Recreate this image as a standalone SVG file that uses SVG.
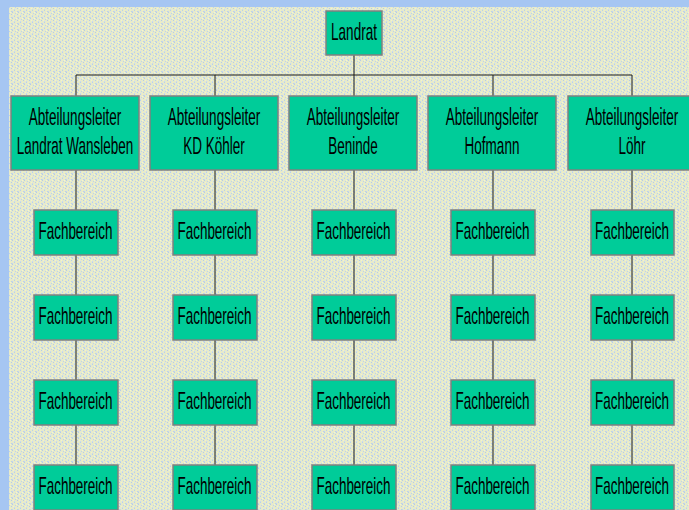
<svg xmlns="http://www.w3.org/2000/svg" width="689" height="510" viewBox="0 0 689 510">
<defs>
<pattern id="tex" x="0" y="0" width="6" height="6" patternUnits="userSpaceOnUse">
<rect width="6" height="6" fill="#e6eacc"/>
<rect x="0" y="0" width="1" height="1" fill="#b4cce8"/>
<rect x="3" y="1" width="1" height="1" fill="#bcd2ee"/>
<rect x="1" y="2" width="1" height="1" fill="#f4f4c8"/>
<rect x="5" y="2" width="1" height="1" fill="#b4cce8"/>
<rect x="2" y="3" width="1" height="1" fill="#c8daf0"/>
<rect x="2" y="4" width="1" height="1" fill="#b8d0ec"/>
<rect x="4" y="4" width="1" height="1" fill="#f0f0c0"/>
<rect x="0" y="5" width="1" height="1" fill="#c4d6ea"/>
<rect x="4" y="0" width="1" height="1" fill="#f6f6cc"/>
<rect x="5" y="5" width="1" height="1" fill="#bcd0ea"/>
</pattern>
<style>
.box{fill:#00cc99;stroke:#808080;stroke-width:1.5}
.t{font-family:"Liberation Sans",Arial,sans-serif;font-size:24px;fill:#000;text-anchor:middle}
.ln{stroke:#1a1a1a;stroke-width:1;fill:none}
</style>
</defs>
<rect width="689" height="510" fill="#a6c6f2"/>
<rect x="9" y="7" width="680" height="503" fill="url(#tex)"/>
<g id="connectors">
<path class="ln" d="M354,55V75M76,75H632M76,75V96M215,75V96M354,75V96M493,75V96M632,75V96"/>
<path class="ln" d="M76,170V465M215,170V465M354,170V465M493,170V465M632,170V465"/>
</g>
<g id="landrat"><rect class="box" x="326" y="11" width="56" height="44"/><text class="t" transform="translate(354,40) scale(0.563,1)">Landrat</text></g>
<g id="al1"><rect class="box" x="11" y="96" width="128" height="74"/><text class="t" transform="translate(75,125) scale(0.563,1)">Abteilungsleiter</text><text class="t" transform="translate(75,154) scale(0.563,1)">Landrat Wansleben</text></g>
<g id="al2"><rect class="box" x="150" y="96" width="128" height="74"/><text class="t" transform="translate(214,125) scale(0.563,1)">Abteilungsleiter</text><text class="t" transform="translate(214,154) scale(0.563,1)">KD Köhler</text></g>
<g id="al3"><rect class="box" x="289" y="96" width="128" height="74"/><text class="t" transform="translate(353,125) scale(0.563,1)">Abteilungsleiter</text><text class="t" transform="translate(353,154) scale(0.563,1)">Beninde</text></g>
<g id="al4"><rect class="box" x="428" y="96" width="128" height="74"/><text class="t" transform="translate(492,125) scale(0.563,1)">Abteilungsleiter</text><text class="t" transform="translate(492,154) scale(0.563,1)">Hofmann</text></g>
<g id="al5"><rect class="box" x="568" y="96" width="128" height="74"/><text class="t" transform="translate(632,125) scale(0.563,1)">Abteilungsleiter</text><text class="t" transform="translate(632,154) scale(0.563,1)">Löhr</text></g>
<g id="fb1-1"><rect class="box" x="34" y="210" width="84" height="45"/><text class="t" transform="translate(75.5,239) scale(0.56,1)">Fachbereich</text></g>
<g id="fb1-2"><rect class="box" x="34" y="295" width="84" height="45"/><text class="t" transform="translate(75.5,324) scale(0.56,1)">Fachbereich</text></g>
<g id="fb1-3"><rect class="box" x="34" y="380" width="84" height="45"/><text class="t" transform="translate(75.5,409) scale(0.56,1)">Fachbereich</text></g>
<g id="fb1-4"><rect class="box" x="34" y="465" width="84" height="45"/><text class="t" transform="translate(75.5,494) scale(0.56,1)">Fachbereich</text></g>
<g id="fb2-1"><rect class="box" x="173" y="210" width="84" height="45"/><text class="t" transform="translate(214.5,239) scale(0.56,1)">Fachbereich</text></g>
<g id="fb2-2"><rect class="box" x="173" y="295" width="84" height="45"/><text class="t" transform="translate(214.5,324) scale(0.56,1)">Fachbereich</text></g>
<g id="fb2-3"><rect class="box" x="173" y="380" width="84" height="45"/><text class="t" transform="translate(214.5,409) scale(0.56,1)">Fachbereich</text></g>
<g id="fb2-4"><rect class="box" x="173" y="465" width="84" height="45"/><text class="t" transform="translate(214.5,494) scale(0.56,1)">Fachbereich</text></g>
<g id="fb3-1"><rect class="box" x="312" y="210" width="84" height="45"/><text class="t" transform="translate(353.5,239) scale(0.56,1)">Fachbereich</text></g>
<g id="fb3-2"><rect class="box" x="312" y="295" width="84" height="45"/><text class="t" transform="translate(353.5,324) scale(0.56,1)">Fachbereich</text></g>
<g id="fb3-3"><rect class="box" x="312" y="380" width="84" height="45"/><text class="t" transform="translate(353.5,409) scale(0.56,1)">Fachbereich</text></g>
<g id="fb3-4"><rect class="box" x="312" y="465" width="84" height="45"/><text class="t" transform="translate(353.5,494) scale(0.56,1)">Fachbereich</text></g>
<g id="fb4-1"><rect class="box" x="451" y="210" width="84" height="45"/><text class="t" transform="translate(492.5,239) scale(0.56,1)">Fachbereich</text></g>
<g id="fb4-2"><rect class="box" x="451" y="295" width="84" height="45"/><text class="t" transform="translate(492.5,324) scale(0.56,1)">Fachbereich</text></g>
<g id="fb4-3"><rect class="box" x="451" y="380" width="84" height="45"/><text class="t" transform="translate(492.5,409) scale(0.56,1)">Fachbereich</text></g>
<g id="fb4-4"><rect class="box" x="451" y="465" width="84" height="45"/><text class="t" transform="translate(492.5,494) scale(0.56,1)">Fachbereich</text></g>
<g id="fb5-1"><rect class="box" x="591" y="210" width="83" height="45"/><text class="t" transform="translate(632,239) scale(0.56,1)">Fachbereich</text></g>
<g id="fb5-2"><rect class="box" x="591" y="295" width="83" height="45"/><text class="t" transform="translate(632,324) scale(0.56,1)">Fachbereich</text></g>
<g id="fb5-3"><rect class="box" x="591" y="380" width="83" height="45"/><text class="t" transform="translate(632,409) scale(0.56,1)">Fachbereich</text></g>
<g id="fb5-4"><rect class="box" x="591" y="465" width="83" height="45"/><text class="t" transform="translate(632,494) scale(0.56,1)">Fachbereich</text></g>
</svg>
